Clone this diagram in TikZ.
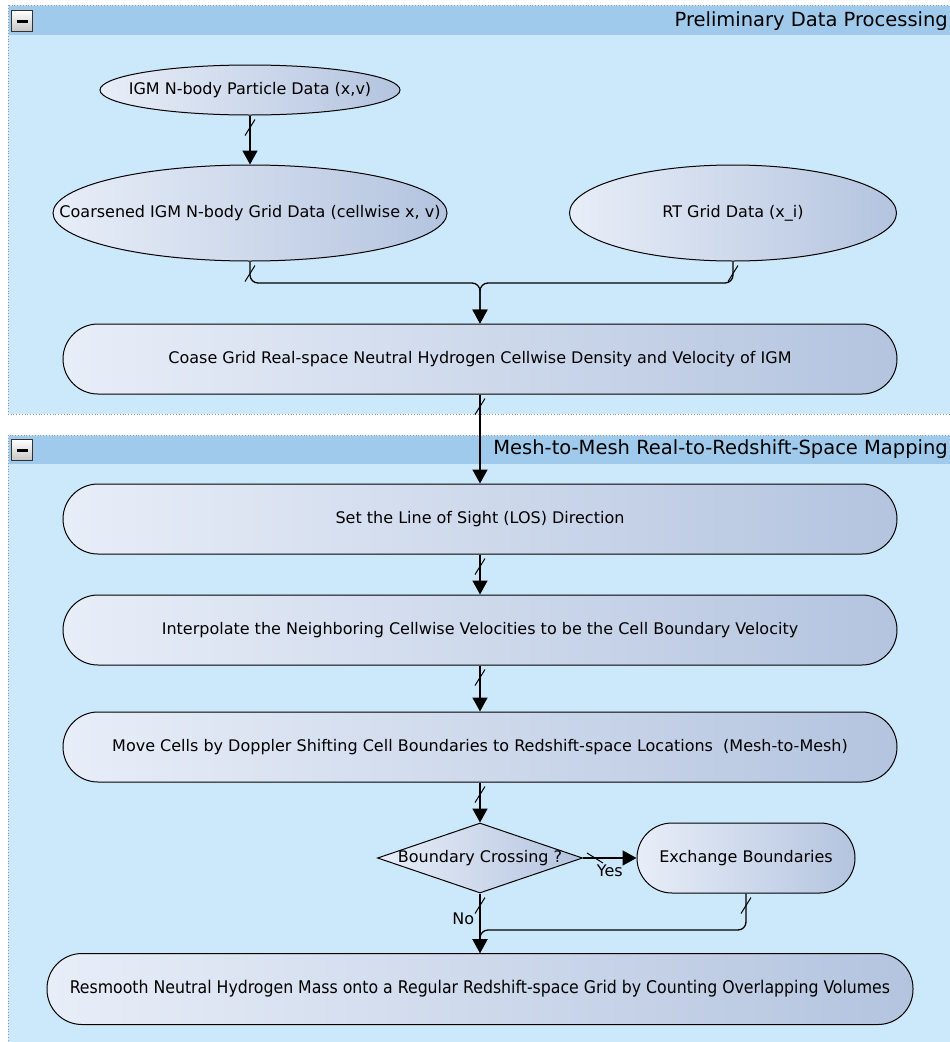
\documentclass[tikz,border=0pt]{standalone}
\usepackage{fontspec}
\setmainfont{DejaVu Sans}
\newfontfamily\condfont{DejaVu Sans Condensed}
\usetikzlibrary{shapes.geometric,arrows.meta,decorations.markings}

\definecolor{bodyblue}{HTML}{CCE9FB}
\definecolor{headblue}{HTML}{A0CAEB}
\definecolor{nodeleft}{HTML}{E8EEF8}
\definecolor{noderight}{HTML}{B4C4DF}

\newcommand{\flowfont}{\fontsize{16}{19}\selectfont}

\tikzset{
  panelframe/.style={draw=gray!80, dotted, line width=0.8pt, fill=bodyblue},
  paneltitle/.style={anchor=east, inner sep=0pt, font=\fontsize{19.5}{23}\selectfont},
  foldbtn/.style={draw=gray!40!black, line width=0.8pt, top color=white, bottom color=gray!45,
    minimum size=21pt, inner sep=0pt},
  flowbox/.style={draw=black, line width=1pt, left color=nodeleft, right color=noderight, font=\flowfont},
  dataell/.style={flowbox, ellipse, inner sep=0pt},
  procbox/.style={flowbox, rectangle, rounded corners=35pt, minimum width=834pt, minimum height=70pt},
  flowarrow/.style={line width=1.7pt, -{Triangle[length=14pt,width=15pt]}},
  mergeline/.style={line width=1.3pt, rounded corners=8pt, -{Triangle[length=14pt,width=15pt]}},
  slashed/.style={postaction={decorate, decoration={markings,
    mark=at position 12pt with {\draw[line width=1pt,-] (-8pt,5pt) -- (8pt,-5pt);}}}},
  edgelabel/.style={font=\flowfont, inner sep=1pt}
}

\begin{document}
\begin{tikzpicture}[x=1pt,y=-1pt]
\clip (0,0) rectangle (950,1042);
\fill[white] (0,0) rectangle (950,1042);

% panels
\draw[panelframe] (8,5) rectangle (955,414);
\fill[headblue] (8.5,5.5) rectangle (955,35);
\node[foldbtn] (fold1) at (22,21) {\rule{11pt}{3pt}};
\node[paneltitle] (title1) at (948,21) {Preliminary Data Processing};

\draw[panelframe] (8,435) rectangle (955,1060);
\fill[headblue] (8.5,435.5) rectangle (955,464);
\node[foldbtn] (fold2) at (22,450) {\rule{11pt}{3pt}};
\node[paneltitle] (title2) at (948,449) {Mesh-to-Mesh Real-to-Redshift-Space Mapping};

% preliminary data
\node[dataell, minimum width=300pt, minimum height=50pt,
  label={[font=\flowfont]center:IGM N-body Particle Data (x,v)}] (particles) at (250,90) {};
\node[dataell, minimum width=394pt, minimum height=96pt,
  label={[font=\flowfont]center:Coarsened IGM N-body Grid Data (cellwise x, v)}] (cgrid) at (250,213) {};
\node[dataell, minimum width=327pt, minimum height=96pt,
  label={[font=\flowfont]center:RT Grid Data (x\_i)}] (rtgrid) at (733,213) {};
\node[procbox] (coase) at (480,359)
  {Coase Grid Real-space Neutral Hydrogen Cellwise Density and Velocity of IGM};

% mapping
\node[procbox] (los) at (480,519) {Set the Line of Sight (LOS) Direction};
\node[procbox] (interp) at (480,630)
  {Interpolate the Neighboring Cellwise Velocities to be the Cell Boundary Velocity};
\node[procbox] (move) at (480,747)
  {Move Cells by Doppler Shifting Cell Boundaries to Redshift-space Locations\ \ (Mesh-to-Mesh)};
\node[flowbox, diamond, inner sep=0pt, minimum width=205pt, minimum height=70pt,
  label={[font=\flowfont]center:Boundary Crossing ?}] (cross) at (480,858) {};
\node[flowbox, rectangle, rounded corners=35pt, minimum width=218pt, minimum height=70pt]
  (exch) at (746,858) {Exchange Boundaries};
\node[flowbox, rectangle, rounded corners=35pt, minimum width=866pt, minimum height=71pt,
  font=\condfont\fontsize{17.5}{21}\selectfont] (resm) at (480,989)
  {Resmooth Neutral Hydrogen Mass onto a Regular Redshift-space Grid by Counting Overlapping Volumes};

\coordinate (join1) at (480,283);
\coordinate (join2) at (480,930);

% connectors
\draw[flowarrow, slashed] (particles) -- (cgrid);
\draw[mergeline, slashed] (cgrid.south) |- (join1) -- (coase.north);
\draw[mergeline, slashed] (rtgrid.south) |- (join1) -- (coase.north);
\draw[flowarrow, slashed] (coase) -- (los);
\draw[flowarrow, slashed] (los) -- (interp);
\draw[flowarrow, slashed] (interp) -- (move);
\draw[flowarrow, slashed] (move) -- (cross);
\draw[flowarrow, slashed] (cross.east) -- (exch.west)
  node[edgelabel, pos=0.5, below=5pt] (yes) {Yes};
\draw[flowarrow, slashed] (cross.south) -- (resm.north)
  node[edgelabel, pos=0.42, left=4pt] (no) {No};
\draw[mergeline, slashed] (exch.south) |- (join2) -- (resm.north);
\end{tikzpicture}
\end{document}
